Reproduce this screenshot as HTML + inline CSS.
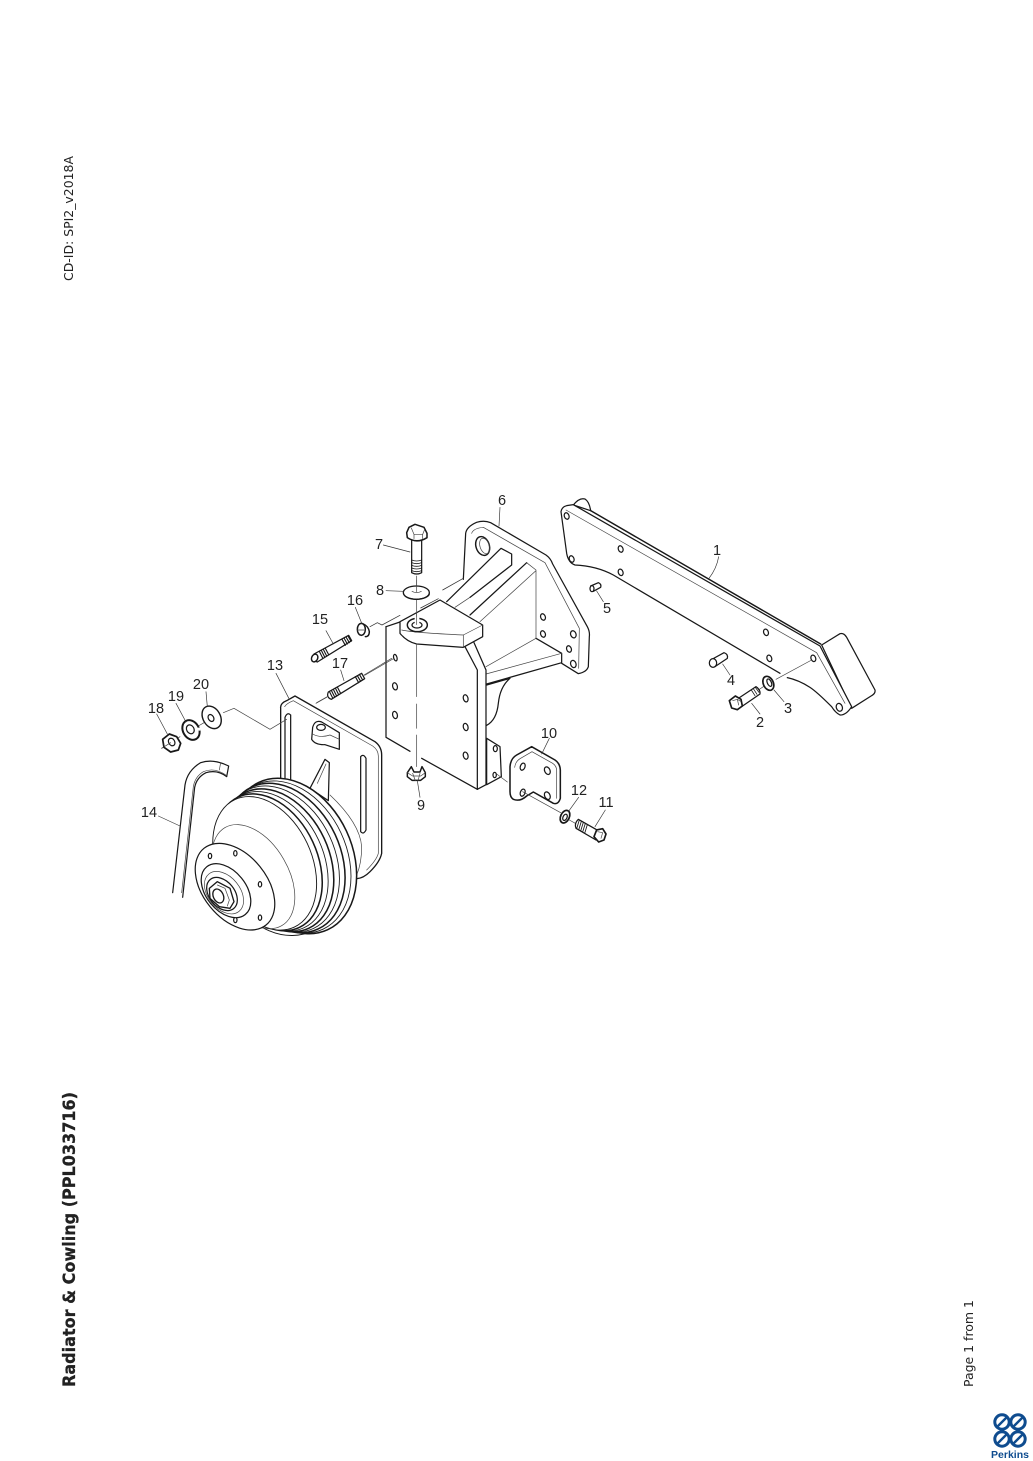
<!DOCTYPE html>
<html><head><meta charset="utf-8"><title>Radiator &amp; Cowling (PPL033716)</title>
<style>
html,body{margin:0;padding:0;background:#fff;width:1033px;height:1461px;overflow:hidden}
svg{display:block}
.z{fill:none;stroke:#181818;stroke-width:3.7;stroke-linecap:round;stroke-linejoin:round;filter:blur(.3px)}
.t{stroke-width:2.1;stroke:#444}
.w{fill:#fff}
.n{fill:#fff;stroke:none}
.l{stroke-width:2;stroke:#333}
.lab{font-family:"Liberation Sans",sans-serif;font-size:14.5px;fill:#222;text-anchor:middle}
.side{font-family:"DejaVu Sans",sans-serif;fill:#222}
</style></head><body>
<svg xmlns="http://www.w3.org/2000/svg" width="1033" height="1461" viewBox="0 0 1033 1461">
<rect width="1033" height="1461" fill="#fff"/>

<!-- PART 1 -->
<g class="z" transform="translate(550,490) scale(.33333)">
 <path class="w" d="M815,465 L870,431 Q882,428 890,442 L975,600 Q977,610 965,617 L905,655 Z"/>
 <path class="w" d="M70,45 Q88,22 105,27 Q118,35 122,62 Z"/>
 <path class="w" d="M33,65 Q36,50 50,47 L70,44 L810,468 L905,650 Q888,676 870,675 Q856,668 845,650 Q800,605 780,592 Q745,570 712,563 M690,550 L190,255 Q140,228 75,225 Q55,218 50,190 L33,65"/>
 <path style="stroke-width:4.4" d="M122,62 L812,462"/>
 <path class="t" d="M48,60 L800,488 L885,640"/>
 <ellipse cx="50" cy="78" rx="7" ry="10" transform="rotate(-20 50 78)"/>
 <ellipse cx="65" cy="207" rx="7" ry="10" transform="rotate(-20 65 207)"/>
 <ellipse cx="212" cy="177" rx="7" ry="10" transform="rotate(-20 212 177)"/>
 <ellipse cx="212" cy="247" rx="7" ry="10" transform="rotate(-20 212 247)"/>
 <ellipse cx="648" cy="427" rx="7" ry="10" transform="rotate(-20 648 427)"/>
 <ellipse cx="658" cy="505" rx="7" ry="10" transform="rotate(-20 658 505)"/>
 <ellipse cx="790" cy="505" rx="7" ry="10" transform="rotate(-20 790 505)"/>
 <ellipse cx="868" cy="652" rx="9" ry="12" transform="rotate(-20 868 652)"/>
 <!-- dowel 5 -->
 <path class="w" d="M122,288 L145,278 Q155,282 152,292 L130,304"/>
 <ellipse class="w" cx="126" cy="296" rx="6" ry="9"/>
 <!-- dowel 4 -->
 <path class="w" d="M482,510 L522,488 Q535,492 532,505 L495,530"/>
 <ellipse class="w" cx="489" cy="519" rx="11" ry="13"/>
 <!-- axis -->
 <path class="t" d="M785,510 L678,568"/>
 <path class="t" d="M640,590 L625,600"/>
 <!-- washer 3 -->
 <ellipse class="w" cx="655" cy="580" rx="15" ry="22" transform="rotate(-25 655 580)" style="stroke-width:5"/>
 <ellipse cx="658" cy="578" rx="6" ry="12" transform="rotate(-25 658 578)"/>
 <!-- bolt 2 -->
 <path class="w" d="M565,625 L618,590 Q632,600 630,612 L575,650 Z"/>
 <path style="stroke-width:2.4" d="M604,600 L615,617 M610,596 L621,613 M616,592 L627,607 M622,592 L630,605"/>
 <path class="w" d="M538,632 L556,618 L573,628 L577,648 L562,659 L545,654 Z" style="stroke-width:5"/>
 <path class="t" d="M548,632 L562,628 L566,645 M562,628 L572,634"/>
 <!-- leaders -->
 <path class="l" d="M506,200 Q500,235 477,265"/>
 <path class="l" d="M140,303 L160,335"/>
 <path class="l" d="M518,522 L540,555"/>
 <path class="l" d="M672,600 L702,635"/>
 <path class="l" d="M605,640 L630,672"/>
</g>

<!-- PARTS 6,7,8,9,10,11,12,15,16,17 -->
<g class="z" transform="translate(300,490) scale(.33333)">
 <!-- back plate -->
 <path class="w" d="M490,268 L497,130 Q500,110 530,97 Q552,90 572,98 L738,195 Q752,205 758,222 L862,410 Q870,425 868,440 L865,530 Q860,546 835,551 L785,520"/>
 <path class="t" d="M515,130 Q520,115 550,112 L735,218 L838,415 L836,535"/>
 <ellipse class="w" cx="548" cy="168" rx="20" ry="29" transform="rotate(-18 548 168)" style="stroke-width:4.4"/>
 <ellipse cx="554" cy="168" rx="14" ry="24" transform="rotate(-18 554 168)" class="t"/>
 <!-- ribs -->
 <path class="n" d="M440,335 L603,175 L635,192 L635,225 L510,325 Z"/>
 <path d="M440,335 L603,175 L635,192 L635,225 L510,322"/>
 <path class="t" d="M510,322 L465,352"/>
 <path class="n" d="M510,375 L680,218 L708,240 L708,445 L560,525 Z"/>
 <path d="M510,375 L680,218"/>
 <path class="t" d="M680,218 L708,240 L708,445 M540,395 L708,242"/>
 <!-- lower rib -->
 <path class="n" d="M555,530 L708,445 L785,490 L785,518 L560,582 Z"/>
 <path d="M708,445 L785,490 L785,518 L560,582"/>
 <path class="t" d="M558,530 L708,445 M558,552 L785,490"/>
 <!-- gusset -->
 <path class="w" d="M560,585 L630,565 Q600,590 595,640 Q590,690 560,706"/>
 <!-- holes on back plate -->
 <ellipse cx="729" cy="381" rx="7" ry="10" transform="rotate(-20 729 381)"/>
 <ellipse cx="729" cy="432" rx="7" ry="10" transform="rotate(-20 729 432)"/>
 <ellipse cx="820" cy="433" rx="8" ry="11" transform="rotate(-20 820 433)"/>
 <ellipse cx="807" cy="477" rx="7" ry="10" transform="rotate(-20 807 477)"/>
 <ellipse cx="820" cy="522" rx="8" ry="11" transform="rotate(-20 820 522)"/>
 <!-- small bracket -->
 <path class="w" d="M560,745 L600,770 L604,860 L560,884 Z"/>
 <ellipse cx="586" cy="776" rx="6" ry="9"/>
 <ellipse cx="584" cy="855" rx="5" ry="8"/>
 <!-- front plate -->
 <path class="n" d="M258,410 L258,742 L532,898 L558,884 L558,540 L520,455 L300,395 Z"/>
 <path d="M258,410 L258,742 L330,784 M365,805 L532,898 L558,884 L558,540 L522,458"/>
 <path d="M495,470 L532,540 L532,898"/>
 <path d="M258,410 L300,396"/>
 <!-- top block -->
 <path class="w" d="M300,395 L420,330 L548,405 L548,440 L490,472 L350,462 Q320,455 300,430 Z"/>
 <path class="t" d="M305,420 Q340,428 490,435 L548,405"/>
 <path class="t" d="M490,435 L490,472"/>
 <!-- front holes -->
 <ellipse cx="286" cy="503" rx="5" ry="10" transform="rotate(-15 286 503)"/>
 <ellipse cx="285" cy="589" rx="7" ry="11" transform="rotate(-15 285 589)"/>
 <ellipse cx="285" cy="675" rx="7" ry="11" transform="rotate(-15 285 675)"/>
 <ellipse cx="497" cy="625" rx="7" ry="11" transform="rotate(-15 497 625)"/>
 <ellipse cx="497" cy="711" rx="7" ry="11" transform="rotate(-15 497 711)"/>
 <ellipse cx="497" cy="797" rx="7" ry="11" transform="rotate(-15 497 797)"/>
 <!-- axis long -->
 <path class="t" d="M350,462 L350,620 M350,642 L350,715 M350,735 L350,830"/>
 <path class="t" d="M350,258 L350,295 M350,330 L350,400"/>
 <!-- dash line towards 16 -->
 <path style="stroke:#333;stroke-width:2.2" d="M210,410 L232,398 L246,405 L300,376 M362,354 L415,326 M428,300 L490,265"/>
 <!-- hole washer -->
 <ellipse class="w" cx="352" cy="405" rx="30" ry="20" style="stroke-width:4.4"/>
 <ellipse class="w" cx="351" cy="405" rx="15" ry="9"/>
 <path class="n" d="M344,380 h14 v24 h-14 z"/>
 <path class="t" d="M350,370 L350,404"/>
 <!-- washer 8 -->
 <ellipse class="w" cx="349" cy="308" rx="39" ry="20" style="stroke-width:4"/>
 <path d="M311,312 Q315,325 349,328 Q385,325 388,312"/>
 <path class="t" d="M336,304 Q350,312 364,304"/>
 <path class="t" d="M350,270 L350,305"/>
 <!-- bolt 7 -->
 <path class="w" d="M335,150 L335,248 Q350,256 365,248 L365,150 Z"/>
 <path style="stroke-width:2.4" d="M335,210 Q350,216 365,210 M335,218 Q350,224 365,218 M335,226 Q350,232 365,226 M335,234 Q350,240 365,234 M335,242 Q350,248 365,242"/>
 <path class="w" d="M320,128 L327,112 L345,103 L372,112 L381,130 L381,143 Q350,162 322,143 Z" style="stroke-width:4.6"/>
 <path class="t" d="M334,114 L342,133 L368,133 L374,118 M342,133 L342,146 M368,133 L368,146"/>
 <!-- nut 9 -->
 <path class="w" d="M322,848 L334,830 L342,846 L360,846 L366,830 L376,848 L376,860 L362,871 L336,871 L322,860 Z" style="stroke-width:4.4"/>
 <path class="t" d="M338,850 L346,872 M360,850 L354,872 M322,848 L338,858 L362,858 L376,848"/>
 <!-- axis to plate 10 -->
 <path class="t" d="M590,852 L622,876"/>
 <!-- plate 10 -->
 <path class="w" d="M630,830 Q632,805 650,795 L695,770 L765,810 Q780,820 781,840 L781,925 Q775,945 760,940 L700,906 L680,918 Q660,936 640,928 Q630,922 630,905 Z" style="stroke-width:4.6"/>
 <path class="t" d="M644,832 Q646,815 660,806 L696,785 L758,820 Q770,828 770,842 L770,925"/>
 <ellipse cx="668" cy="830" rx="7" ry="11" transform="rotate(20 668 830)"/>
 <ellipse cx="742" cy="842" rx="8" ry="12" transform="rotate(-25 742 842)"/>
 <ellipse cx="668" cy="908" rx="7" ry="11" transform="rotate(20 668 908)"/>
 <ellipse cx="742" cy="917" rx="8" ry="12" transform="rotate(-25 742 917)"/>
 <path class="t" d="M668,905 L782,968"/>
 <!-- washer 12 -->
 <ellipse class="w" cx="795" cy="980" rx="13" ry="20" transform="rotate(25 795 980)" style="stroke-width:5.2"/>
 <ellipse cx="795" cy="982" rx="6" ry="10" transform="rotate(25 795 982)"/>
 <path class="t" d="M808,990 L826,1000"/>
 <!-- bolt 11 -->
 <path class="w" d="M835,988 L895,1022 L888,1050 L828,1015 Q822,1000 835,988 Z"/>
 <path style="stroke-width:2.6" d="M838,990 L830,1016 M844,994 L836,1020 M850,997 L842,1023 M856,1000 L848,1026 M862,1004 L854,1030"/>
 <path class="w" d="M882,1040 L890,1020 L908,1016 L918,1032 L912,1050 L896,1056 Z" style="stroke-width:5"/>
 <path class="t" d="M893,1025 L908,1028 L903,1045"/>
 <!-- washer 16 -->
 <path d="M190,402 Q205,408 208,425 Q208,440 196,440" style="stroke-width:4.4"/>
 <ellipse class="w" cx="184" cy="418" rx="12" ry="18" style="stroke-width:4.4"/>
 <path class="t" d="M172,420 L192,420"/>
 <!-- stud 15 -->
 <path class="w" d="M42,492 L146,436 L155,452 L52,516 Q35,510 42,492 Z"/>
 <path style="stroke-width:3.4" d="M58,484 L68,504 M64,481 L74,501 M70,478 L80,498 M76,475 L86,494 M126,448 L136,466 M132,444 L142,462 M138,441 L148,458 M144,438 L153,454"/>
 <ellipse class="w" cx="44" cy="504" rx="9" ry="12" transform="rotate(25 44 504)" style="stroke-width:4.4"/>
 <!-- stud 17 -->
 <path class="w" d="M85,606 L185,550 L194,566 L94,628 Q78,622 85,606 Z"/>
 <path style="stroke-width:3.4" d="M88,604 L98,624 M94,601 L104,621 M100,598 L110,618 M106,594 L116,614 M112,591 L122,610 M166,560 L176,578 M172,557 L182,574 M178,553 L188,570"/>
 <path class="t" d="M194,556 L282,505"/>
 <path class="t" d="M50,638 L85,618"/>
 <!-- leaders -->
 <path class="l" d="M600,52 L597,108"/>
 <path class="l" d="M250,165 L330,186"/>
 <path class="l" d="M258,302 L310,304"/>
 <path class="l" d="M166,352 L186,402"/>
 <path class="l" d="M78,422 L100,462"/>
 <path class="l" d="M122,540 L132,572"/>
 <path class="l" d="M352,872 L360,922"/>
 <path class="l" d="M748,745 L725,792"/>
 <path class="l" d="M836,922 L805,965"/>
 <path class="l" d="M916,960 L885,1010"/>
</g>

<!-- PARTS 13,14,18,19,20 + pulley -->
<g class="z" transform="translate(130,640) scale(.33333)">
 <!-- plate 13 -->
 <path class="w" d="M452,205 Q450,190 470,182 L495,168 L735,305 Q755,320 755,345 L755,640 Q750,665 720,695 Q700,715 680,716 L452,500 Z" style="stroke-width:4"/>
 <path class="t" d="M464,200 Q470,190 490,182 L728,318 Q745,330 745,348 L745,640 Q740,660 710,690"/>
 <path d="M465,232 L465,420 M482,225 L482,420 M465,232 Q472,215 482,225"/>
 <path class="w" d="M692,350 Q700,340 708,355 L708,570 Q700,585 692,575 Z"/>
 <path class="w" d="M548,262 Q555,238 575,246 L628,278 L628,328 L585,314 Q555,315 545,298 Z"/>
 <path class="t" d="M548,282 Q570,295 600,285 L628,298"/>
 <ellipse class="w" cx="573" cy="262" rx="13" ry="9"/>
 <path class="w" d="M540,445 L585,358 L598,368 L595,482 Z"/>
 <path class="t" d="M562,430 L588,372"/>
 <path class="t" d="M600,465 Q690,550 695,620 Q695,670 680,705"/>
 <!-- pulley back -->
 <ellipse class="w" cx="470" cy="700" rx="190" ry="170" transform="rotate(65 470 700)" style="stroke-width:2.8"/>
 <!-- ribs -->
 <ellipse class="w" cx="490" cy="648" rx="244" ry="176" transform="rotate(65 490 648)" style="stroke-width:4.6"/>
 <ellipse class="w" cx="478" cy="651" rx="239" ry="171" transform="rotate(65 478 651)" style="stroke-width:2.6"/>
 <ellipse class="w" cx="465" cy="654" rx="235" ry="166" transform="rotate(65 465 654)" style="stroke-width:4.6"/>
 <ellipse class="w" cx="453" cy="657" rx="230" ry="161" transform="rotate(65 453 657)" style="stroke-width:2.6"/>
 <ellipse class="w" cx="441" cy="661" rx="225" ry="156" transform="rotate(65 441 661)" style="stroke-width:4.6"/>
 <ellipse class="w" cx="429" cy="664" rx="220" ry="151" transform="rotate(65 429 664)" style="stroke-width:2.6"/>
 <ellipse class="w" cx="416" cy="667" rx="216" ry="146" transform="rotate(65 416 667)" style="stroke-width:4.6"/>
 <ellipse class="w" cx="404" cy="670" rx="211" ry="141" transform="rotate(65 404 670)" style="stroke-width:2.8"/>
 <!-- bell -->
 <ellipse class="t" cx="370" cy="710" rx="170" ry="105" transform="rotate(60 370 710)"/>
 <!-- flange -->
 <ellipse class="w" cx="315" cy="740" rx="148" ry="96" transform="rotate(51 315 740)" style="stroke-width:3.6"/>
 <ellipse cx="240" cy="648" rx="5" ry="8"/>
 <ellipse cx="316" cy="640" rx="5" ry="8"/>
 <ellipse cx="390" cy="733" rx="5" ry="8"/>
 <ellipse cx="390" cy="833" rx="5" ry="8"/>
 <ellipse cx="316" cy="840" rx="5" ry="8"/>
 <!-- hub -->
 <ellipse class="w" cx="288" cy="752" rx="92" ry="60" transform="rotate(51 288 752)"/>
 <ellipse class="t w" cx="282" cy="758" rx="72" ry="48" transform="rotate(51 282 758)"/>
 <ellipse class="w" cx="276" cy="762" rx="56" ry="38" transform="rotate(51 276 762)"/>
 <path class="w" d="M238,745 L262,725 L300,745 L312,785 L300,805 L268,800 L240,775 Z" style="stroke-width:4"/>
 <path class="t" d="M262,735 L285,745 L298,780 L292,798"/>
 <ellipse class="w" cx="265" cy="768" rx="15" ry="22" transform="rotate(-25 265 768)" style="stroke-width:4"/>
 <!-- hook 14 -->
 <path class="w" d="M128,758 L165,435 Q172,392 212,368 Q250,355 296,378 L290,410 Q262,388 228,398 Q200,412 194,442 L158,772" style="stroke-width:3.6"/>
 <path d="M155,758 L190,440 Q195,410 220,395 Q255,380 292,408" class="t"/>
 <path class="t" d="M272,368 L268,390"/>
 <!-- axis 18-20 -->
 <path class="t" d="M95,325 L150,290 M205,258 L222,248"/>
 <path class="t" d="M280,218 L312,205 L420,268 L470,238"/>
 <path class="t" d="M558,190 L590,172 M702,105 L785,55"/>
 <!-- washer 20 -->
 <ellipse class="w" cx="245" cy="232" rx="26" ry="36" transform="rotate(-30 245 232)" style="stroke-width:4.2"/>
 <ellipse cx="243" cy="234" rx="8" ry="11" transform="rotate(-30 243 234)"/>
 <!-- lock 19 -->
 <ellipse class="w" cx="183" cy="270" rx="24" ry="31" transform="rotate(-30 183 270)" style="stroke-width:6"/>
 <ellipse cx="181" cy="268" rx="11" ry="14" transform="rotate(-30 181 268)"/>
 <path class="n" d="M198,264 L212,262 L211,272 L198,272 Z"/>
 <!-- nut 18 -->
 <path class="w" d="M98,298 L118,282 L140,290 L152,310 L145,330 L122,336 L102,322 Z" style="stroke-width:5.2"/>
 <ellipse cx="125" cy="306" rx="9" ry="12" transform="rotate(-30 125 306)"/>
 <path class="t" d="M95,325 L122,308"/>
 <!-- leaders -->
 <path class="l" d="M438,100 L478,178"/>
 <path class="l" d="M228,155 L232,200"/>
 <path class="l" d="M138,190 L168,246"/>
 <path class="l" d="M80,222 L112,282"/>
 <path class="l" d="M85,528 L150,558"/>
</g>

<!-- callouts -->
<g class="lab">
 <text x="717" y="555">1</text>
 <text x="760" y="727">2</text>
 <text x="788" y="713">3</text>
 <text x="731" y="685">4</text>
 <text x="607" y="613">5</text>
 <text x="502" y="505">6</text>
 <text x="379" y="549">7</text>
 <text x="380" y="595">8</text>
 <text x="421" y="810">9</text>
 <text x="549" y="738">10</text>
 <text x="606" y="807">11</text>
 <text x="579" y="795">12</text>
 <text x="275" y="670">13</text>
 <text x="149" y="817">14</text>
 <text x="320" y="624">15</text>
 <text x="355" y="605">16</text>
 <text x="340" y="668">17</text>
 <text x="156" y="713">18</text>
 <text x="176" y="701">19</text>
 <text x="201" y="689">20</text>
</g>

<!-- side texts -->
<text class="side" transform="translate(73,281) rotate(-90)" font-size="12" textLength="125" lengthAdjust="spacingAndGlyphs">CD-ID: SPI2_v2018A</text>
<text class="side" transform="translate(75,1387) rotate(-90)" font-size="17" font-weight="bold" fill="#111" stroke="#111" stroke-width=".25" textLength="295" lengthAdjust="spacingAndGlyphs">Radiator &amp; Cowling (PPL033716)</text>
<text class="side" transform="translate(973,1387) rotate(-90)" font-size="12" textLength="87" lengthAdjust="spacingAndGlyphs">Page 1 from 1</text>

<!-- Perkins logo -->
<g fill="none" stroke="#0f4c8f" stroke-width="3">
 <circle cx="1002" cy="1422" r="7.2"/><circle cx="1018" cy="1422" r="7.2"/>
 <circle cx="1002" cy="1439" r="7.2"/><circle cx="1018" cy="1439" r="7.2"/>
 <path d="M997,1427 L1007,1417 M1013,1427 L1023,1417 M997,1444 L1007,1434 M1013,1444 L1023,1434" stroke-width="2.4"/>
</g>
<text x="991" y="1458" font-family="Liberation Sans, sans-serif" font-weight="bold" font-size="10.5" fill="#0f4c8f" textLength="38" lengthAdjust="spacingAndGlyphs">Perkins</text>
</svg>
</body></html>
